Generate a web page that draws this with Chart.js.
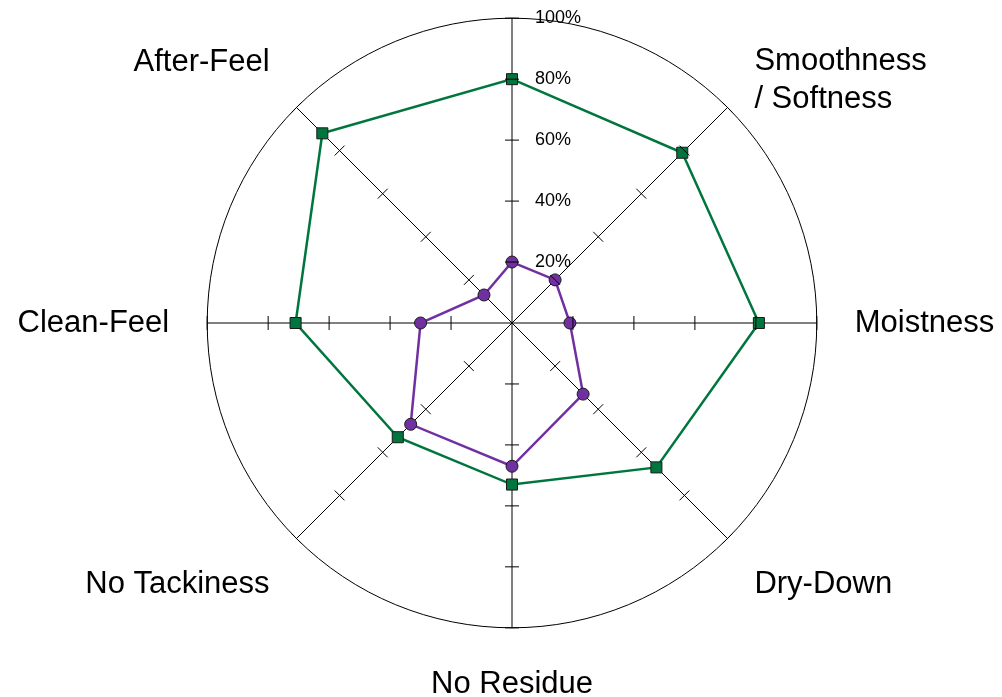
<!DOCTYPE html>
<html>
<head>
<meta charset="utf-8">
<script src="https://cdn.jsdelivr.net/npm/chart.js@4"></script>
<style>
  html, body { margin: 0; background: #fff; overflow: hidden; width: 1002px; height: 697px; }
  #myChart { position: absolute; left: 0; top: 0; }
</style>
</head>
<body>
<canvas id="myChart" width="1040" height="760"></canvas>
<script>
const ctx = document.getElementById('myChart')

// axes, clockwise from the top
let categories = ['', ['Smoothness', '/ Softness'], 'Moistness', 'Dry-Down', 'No Residue', 'No Tackiness', 'Clean-Feel', 'After-Feel']
let greenValues = [80, 79, 81, 67, 53, 53, 71, 88]
let purpleValues = [20, 20, 19, 33, 47, 47, 30, 13]
let tickValues = [20, 40, 60, 80, 100]
let tickLabels = ['20%', '40%', '60%', '80%', '100%']

// the two-line label hangs down from its corner instead of sitting on it
const labelShift = {
    id: 'labelShift',
    beforeDraw(chart) {
        const scale = chart.scales.r
        const item = scale._pointLabelItems && scale._pointLabelItems[1]
        if (item && !item._shifted) {
            item.y += 37
            item.top += 37
            item.bottom += 37
            item._shifted = true
        }
    }
}

// tick marks on every spoke + percent labels on the top spoke
const spokeTicks = {
    id: 'spokeTicks',
    afterDatasetsDraw(chart) {
        const scale = chart.scales.r
        const c = chart.ctx
        c.save()
        c.strokeStyle = '#000'
        c.lineWidth = 1
        for (let i = 0; i < categories.length; i++) {
            const a = scale.getIndexAngle(i) - Math.PI / 2
            const px = -Math.sin(a), py = Math.cos(a)
            tickValues.forEach(v => {
                const p = scale.getPointPositionForValue(i, v)
                c.beginPath()
                c.moveTo(p.x - px * 7, p.y - py * 7)
                c.lineTo(p.x + px * 7, p.y + py * 7)
                c.stroke()
            })
        }
        c.fillStyle = '#000'
        c.font = '18px "Liberation Sans", Arial, sans-serif'
        c.textAlign = 'left'
        c.textBaseline = 'middle'
        tickValues.forEach((v, k) => {
            const p = scale.getPointPositionForValue(0, v)
            c.fillText(tickLabels[k], p.x + 23, p.y)
        })
        c.restore()
    }
}

const myChart = new Chart(ctx, {
    type: 'radar',
    data: {
        labels: categories,
        datasets: [{
            data: greenValues,
            borderColor: '#00763E',
            backgroundColor: '#00763E',
            borderWidth: 2.5,
            fill: false,
            pointStyle: 'rect',
            pointRadius: 7.8,
            pointBorderColor: '#1a1a1a',
            pointBorderWidth: 1,
            pointBackgroundColor: '#00763E'
        }, {
            data: purpleValues,
            borderColor: '#7030A0',
            backgroundColor: '#7030A0',
            borderWidth: 2.5,
            fill: false,
            pointStyle: 'circle',
            pointRadius: 6,
            pointBorderColor: '#1a1a1a',
            pointBorderWidth: 1,
            pointBackgroundColor: '#7030A0'
        }]
    },
    options: {
        responsive: false,
        animation: false,
        plugins: {
            legend: { display: false },
            tooltip: { enabled: false }
        },
        layout: { padding: 0 },
        scales: {
            r: {
                min: 0,
                max: 100,
                ticks: { stepSize: 20, display: false },
                grid: {
                    circular: true,
                    color: c => (c.tick && c.tick.value === 100) ? '#000' : 'rgba(0,0,0,0)',
                    lineWidth: 1
                },
                angleLines: { color: '#000', lineWidth: 1 },
                pointLabels: {
                    color: '#000',
                    padding: 38,
                    font: { family: '"Liberation Sans", Arial, sans-serif', size: 31 }
                }
            }
        }
    },
    plugins: [labelShift, spokeTicks]
})

// put the centre of the web where it sits in the picture
const r = myChart.scales.r
ctx.style.left = (512 - r.xCenter) + 'px'
ctx.style.top = (323 - r.yCenter) + 'px'
</script>
</body>
</html>
